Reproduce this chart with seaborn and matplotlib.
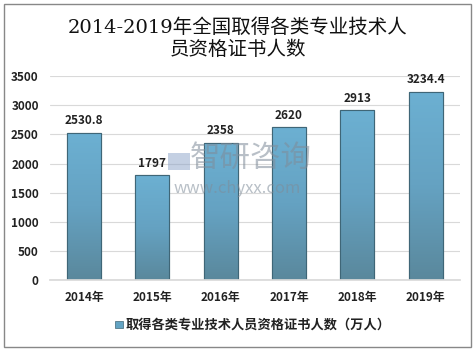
import numpy as np
import pandas as pd
import matplotlib
matplotlib.use('Agg')
import matplotlib.pyplot as plt
import seaborn as sns
from matplotlib.colors import LinearSegmentedColormap
from matplotlib.patches import Rectangle

years = ['2014年', '2015年', '2016年', '2017年', '2018年', '2019年']
values = [2530.8, 1797, 2358, 2620, 2913, 3234.4]
labels = ['2530.8', '1797', '2358', '2620', '2913', '3234.4']
series_name = '取得各类专业技术人员资格证书人数（万人）'
title = '2014-2019年全国取得各类专业技术人\n员资格证书人数'

sns.set_theme(style='white')
plt.rcParams['font.family'] = ['Noto Sans CJK SC', 'DejaVu Sans']

df = pd.DataFrame({'year': years, 'value': values})

fig = plt.figure(figsize=(4.75, 3.51), dpi=100)
ax = fig.add_axes([0.105, 0.202, 0.863, 0.581])

sns.barplot(data=df, x='year', y='value', color='#62a3c3', width=0.5,
            edgecolor='#3f6677', linewidth=0.8, ax=ax)

# gradient fill on each bar
cmap = LinearSegmentedColormap.from_list('g', ['#5a889c', '#65a2c2', '#6cb0d2'])
grad = np.linspace(0, 1, 256).reshape(-1, 1)
for p in ax.patches:
    x0, y0 = p.get_x(), p.get_y()
    w, h = p.get_width(), p.get_height()
    im = ax.imshow(grad, cmap=cmap, aspect='auto', origin='lower',
                   extent=[x0, x0 + w, y0, y0 + h], zorder=p.get_zorder() + 0.1)
    im.set_clip_path(p)
    ax.add_patch(Rectangle((x0, y0), w, h, fill=False, edgecolor='#3f6677',
                           linewidth=0.8, zorder=p.get_zorder() + 0.2))
ax.set_xlim(-0.5, 5.5)
ax.set_ylim(0, 3500)

for i, v in enumerate(values):
    ax.text(i, v + 90, labels[i], ha='center', va='bottom', fontsize=8.5,
            fontweight='bold', color='#222222')

ax.set_yticks(range(0, 3501, 500))
ax.yaxis.grid(True, color='#d9d9d9', linewidth=0.8)
ax.set_axisbelow(True)
for s in ['top', 'right', 'left']:
    ax.spines[s].set_visible(False)
ax.spines['bottom'].set_color('#d9d9d9')
ax.tick_params(axis='both', length=0, labelsize=8.5, colors='#222222', pad=8)
for t in ax.get_xticklabels() + ax.get_yticklabels():
    t.set_fontweight('bold')
ax.set_xlabel('')
ax.set_ylabel('')

fig.text(0.5, 0.89, title, ha='center', va='center', fontsize=14,
         linespacing=1.25, family=['DejaVu Serif', 'Noto Sans CJK SC'], color='#111111')

# legend
fig.patches.append(Rectangle((0.243, 0.065), 0.016, 0.021, transform=fig.transFigure,
                             facecolor='#62a3c3', edgecolor='#3f6677', linewidth=0.5))
fig.text(0.264, 0.075, series_name, ha='left', va='center', fontsize=9.5,
         fontweight='bold', color='#222222')

# watermark
fig.text(0.528, 0.548, '智研咨询', ha='center', va='center', fontsize=22,
         color='#7f8c99', alpha=0.55)
fig.text(0.499, 0.462, 'www.chyxx.com', ha='center', va='center', fontsize=12,
         color='#7f8c99', alpha=0.55)
fig.patches.append(Rectangle((0.354, 0.516), 0.046, 0.048, transform=fig.transFigure,
                             facecolor='#8aa2c8', alpha=0.5, edgecolor='none'))

# outer border
fig.patches.append(Rectangle((0.009, 0.012), 0.982, 0.976, transform=fig.transFigure,
                             fill=False, edgecolor='#888888', linewidth=1))

fig.savefig('out.png', dpi=100)
